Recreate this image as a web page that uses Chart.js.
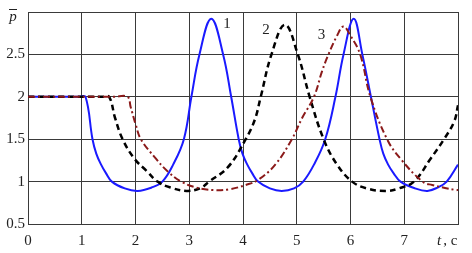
<!DOCTYPE html>
<html>
<head>
<meta charset="utf-8">
<script src="https://cdn.jsdelivr.net/npm/chart.js@4.4.0/dist/chart.umd.min.js"></script>
<style>
  body { margin: 0; background: #fff; }
  #wrap { width: 472px; height: 253px; }
</style>
</head>
<body>
<div id="wrap"><canvas id="pressureChart" width="472" height="253"></canvas></div>
<script>
// time ticks and values
const xTicks = [0, 1, 2, 3, 4, 5, 6, 7, 8];
const yTicks = [0.5, 1, 1.5, 2, 2.5, 3];

// curve 1 (blue, solid)
const t1 = [0, 0.95, 1.07, 1.2, 1.27, 1.36, 1.45, 1.56, 1.8, 2.04, 2.3, 2.5, 2.7, 2.9, 3.04, 3.19, 3.41, 3.63, 3.78, 3.92, 3.99, 4.08, 4.17, 4.28, 4.5, 4.72, 4.95, 5.12, 5.32, 5.53, 5.72, 5.87, 6.06, 6.22, 6.38, 6.54, 6.61, 6.7, 6.8, 6.93, 7.2, 7.43, 7.62, 7.79, 8.0];
const p1 = [2, 2, 2, 1.5, 1.33, 1.2, 1.1, 1.0, 0.92, 0.89, 0.93, 1.0, 1.2, 1.5, 2.0, 2.5, 2.92, 2.5, 2.0, 1.5, 1.33, 1.2, 1.1, 1.0, 0.92, 0.89, 0.92, 1.0, 1.2, 1.5, 2.0, 2.5, 2.92, 2.5, 2.0, 1.5, 1.33, 1.2, 1.1, 1.0, 0.92, 0.89, 0.93, 1.0, 1.2];

// curve 2 (black, dashed)
const t2 = [0, 1.4, 1.51, 1.62, 1.76, 1.98, 2.2, 2.41, 2.65, 2.95, 3.2, 3.37, 3.72, 4.05, 4.22, 4.33, 4.53, 4.78, 5.02, 5.24, 5.5, 5.75, 6.03, 6.3, 6.65, 6.9, 7.18, 7.49, 7.74, 7.93, 8.0];
const p2 = [2, 2, 2, 1.75, 1.5, 1.27, 1.13, 1.0, 0.93, 0.89, 0.92, 1.0, 1.17, 1.5, 1.73, 2.0, 2.5, 2.85, 2.5, 2.0, 1.5, 1.2, 1.0, 0.92, 0.89, 0.92, 1.0, 1.27, 1.5, 1.71, 1.9];

// curve 3 (dark red, dash-dot)
const t3 = [0, 1.6, 1.85, 1.91, 2.0, 2.1, 2.38, 2.6, 2.85, 3.13, 3.45, 3.75, 4.05, 4.28, 4.6, 4.91, 5.1, 5.32, 5.47, 5.59, 5.75, 5.87, 6.0, 6.18, 6.37, 6.68, 6.93, 7.34, 7.52, 7.96, 8.0];
const p3 = [2, 2, 2, 1.88, 1.68, 1.5, 1.27, 1.12, 1.0, 0.93, 0.9, 0.91, 0.96, 1.02, 1.2, 1.5, 1.75, 2.0, 2.3, 2.5, 2.72, 2.83, 2.72, 2.5, 2.0, 1.5, 1.27, 1.0, 0.96, 0.9, 0.9];

// curve numbers, placed in data units
const curveNames = ['1', '2', '3'];
const nameT = [3.7, 4.43, 5.46];
const nameP = [2.86, 2.79, 2.73];

const toPoints = (ts, ps) => ts.map((t, i) => ({ x: t, y: ps[i] }));
const serif = '"Liberation Serif", "Times New Roman", serif';

const extraText = {
  id: 'extraText',
  afterDraw(chart) {
    const ctx = chart.ctx;
    const xs = chart.scales.x, ys = chart.scales.y;
    ctx.save();
    ctx.fillStyle = '#222';
    ctx.textAlign = 'center';
    ctx.textBaseline = 'middle';
    ctx.font = '15px ' + serif;
    curveNames.forEach((n, i) => {
      ctx.fillText(n, xs.getPixelForValue(nameT[i]), ys.getPixelForValue(nameP[i]));
    });
    // axis names
    ctx.font = 'italic 15px ' + serif;
    ctx.fillText('p', 13, 17);
    ctx.strokeStyle = '#222';
    ctx.lineWidth = 1;
    ctx.beginPath();
    ctx.moveTo(9, 9.5);
    ctx.lineTo(17, 9.5);
    ctx.stroke();
    const bx = xs.getPixelForValue(8);
    ctx.fillText('t', bx - 19, 241);
    ctx.font = '15px ' + serif;
    ctx.fillText(',', bx - 13, 241);
    ctx.fillText('c', bx - 4, 241);
    ctx.restore();
  }
};

new Chart(document.getElementById('pressureChart'), {
  type: 'line',
  data: {
    datasets: [
      {
        data: toPoints(t1, p1),
        borderColor: '#1a1aff',
        borderWidth: 2,
        pointRadius: 0,
        order: 3,
        tension: 0.4
      },
      {
        data: toPoints(t2, p2),
        borderColor: '#000',
        borderWidth: 2.5,
        borderDash: [6, 4],
        pointRadius: 0,
        order: 2,
        tension: 0.4
      },
      {
        data: toPoints(t3, p3),
        borderColor: '#8b1a1a',
        borderWidth: 2,
        borderDash: [7, 3, 2, 3],
        pointRadius: 0,
        order: 1,
        tension: 0.4
      }
    ]
  },
  options: {
    responsive: false,
    animation: false,
    layout: { padding: { top: 7, right: 14, left: 0, bottom: 0 } },
    plugins: { legend: { display: false }, tooltip: { enabled: false } },
    scales: {
      x: {
        type: 'linear',
        min: 0,
        max: 8,
        afterFit(s) { s.height = 29; },
        afterBuildTicks(s) { s.ticks = xTicks.map(v => ({ value: v })); },
        grid: { color: '#3a3a3a', lineWidth: 1, drawTicks: false },
        border: { color: '#3a3a3a' },
        ticks: {
          padding: 8,
          color: '#222',
          font: { family: serif, size: 15 },
          maxRotation: 0,
          callback: v => (v === 8 ? '' : String(v))
        }
      },
      y: {
        min: 0.5,
        max: 3,
        afterFit(s) { s.width = 28; },
        afterBuildTicks(s) { s.ticks = yTicks.map(v => ({ value: v })); },
        grid: { color: '#3a3a3a', lineWidth: 1, drawTicks: false },
        border: { color: '#3a3a3a' },
        ticks: {
          padding: 3,
          color: '#222',
          font: { family: serif, size: 15 },
          callback: v => (v === 3 ? '' : String(v))
        }
      }
    }
  },
  plugins: [extraText]
});
</script>
</body>
</html>
